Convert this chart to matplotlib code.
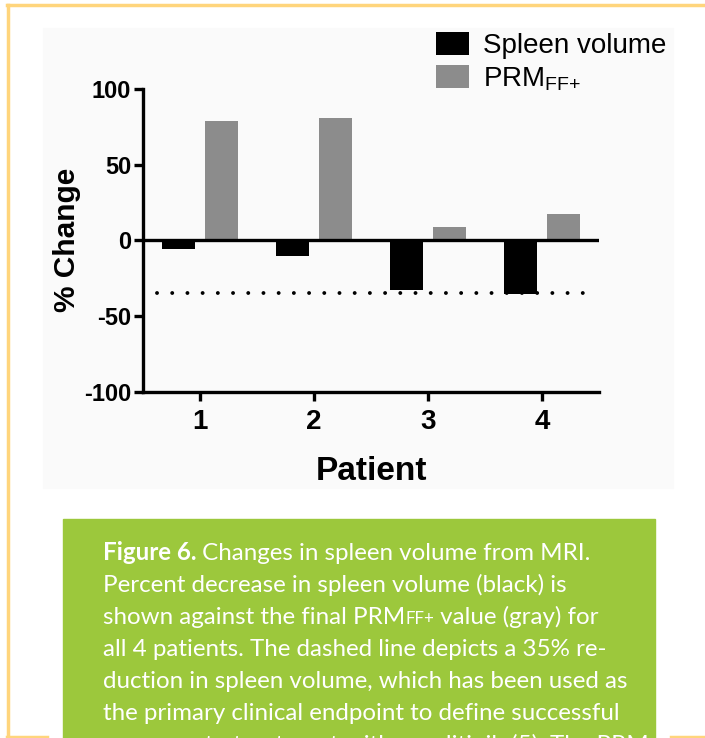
import matplotlib
matplotlib.use("Agg")
import matplotlib.pyplot as plt
from matplotlib.patches import Rectangle
import numpy as np

plt.rcParams['font.family'] = ['Liberation Sans', 'DejaVu Sans']
plt.rcParams['mathtext.fontset'] = 'custom'
plt.rcParams['mathtext.rm'] = 'Liberation Sans'
plt.rcParams['axes.unicode_minus'] = False

# data
patients = [1, 2, 3, 4]
spleen_volume = [-5.5, -10.5, -33, -35.5]
prm_ff = [79, 81, 8.5, 17.5]
threshold = -35
series_labels = ["Spleen volume", r"PRM$_{\mathrm{FF{+}}}$"]

caption_lines = [
    [("Figure 6.", "bold", 1.0), (" Changes in spleen volume from MRI.", "normal", 1.0)],
    [("Percent decrease in spleen volume (black) is", "normal", 1.0)],
    [("shown against the final PRM", "normal", 1.0), ("FF+", "normal", 0.7),
     (" value (gray) for", "normal", 1.0)],
    [("all 4 patients. The dashed line depicts a 35% re-", "normal", 1.0)],
    [("duction in spleen volume, which has been used as", "normal", 1.0)],
    [("the primary clinical endpoint to define successful", "normal", 1.0)],
    [("response to treatment with ruxolitinib (5). The PRM", "normal", 1.0)],
]

W, H = 705, 738
fig = plt.figure(figsize=(W / 100, H / 100), dpi=100)


def fx(px):
    return px / W


def fy(py):
    return 1 - py / H


# page decoration: frame, chart background, caption box
orange = "#FFD57C"
fig.add_artist(plt.Line2D([fx(7), fx(705)], [fy(5), fy(5)], color=orange, lw=2.5))
fig.add_artist(plt.Line2D([fx(8), fx(8)], [fy(5), fy(737)], color=orange, lw=2.5))
fig.add_artist(plt.Line2D([fx(7), fx(47)], [fy(737), fy(737)], color=orange, lw=2.5))
fig.add_artist(plt.Line2D([fx(671), fx(705)], [fy(737), fy(737)], color=orange, lw=2.5))
fig.add_artist(Rectangle((fx(43), fy(488)), fx(673) - fx(43), fy(28) - fy(488),
                         color="#FAFAFA", zorder=0))
fig.add_artist(Rectangle((fx(63), fy(738)), fx(655) - fx(63), fy(519) - fy(738),
                         color="#9CC83C", zorder=0))

# chart
ax = fig.add_axes([fx(143), fy(392), fx(599) - fx(143), fy(88.7) - fy(392)])
ax.set_facecolor("none")

x = np.array(patients)
w = 0.29
off = 0.187
ax.bar(x - off, spleen_volume, w, color="black", label=series_labels[0], zorder=3)
ax.bar(x + off, prm_ff, w, color="#8C8C8C", label=series_labels[1], zorder=3)
ax.axhline(0, color="black", lw=2.4, zorder=4)
ax.plot([0.62, 4.40], [threshold, threshold], color="black", lw=2.8,
        linestyle=(0, (0.01, 3.9)), dash_capstyle="round", zorder=5)

ax.set_xlim(0.5, 4.5)
ax.set_ylim(-100, 100)
ax.set_yticks([-100, -50, 0, 50, 100])
ax.set_xticks(patients)
for s in ["top", "right"]:
    ax.spines[s].set_visible(False)
for s in ["left", "bottom"]:
    ax.spines[s].set_linewidth(2.4)
ax.tick_params(axis="both", width=2.4, length=6.5, direction="out")
ax.tick_params(axis="y", labelsize=17, pad=2)
ax.tick_params(axis="x", labelsize=20, pad=6)
for lab in ax.get_xticklabels() + ax.get_yticklabels():
    lab.set_fontweight("bold")
ax.set_ylabel("% Change", fontsize=21.5, fontweight="bold", labelpad=2)
ax.set_xlabel("Patient", fontsize=24, fontweight="bold", labelpad=15)

ax.legend(loc="upper left", bbox_to_anchor=(fx(425), fy(21)), bbox_transform=fig.transFigure,
          frameon=False, fontsize=20, handlelength=1.2, handleheight=0.9,
          handletextpad=0.5, labelspacing=0.22, borderaxespad=0)

# caption text, drawn piece by piece so the small "FF+" follows "PRM"
cap_font = ["Lato", "DejaVu Sans"]
cap_size = 17.4
renderer = fig.canvas.get_renderer()
base0 = 560
step = 32
for i, pieces in enumerate(caption_lines):
    xpos = 103
    ypos = base0 + i * step
    for txt, weight, scale in pieces:
        t = fig.text(fx(xpos), fy(ypos), txt, color="white", fontsize=cap_size * scale,
                     fontweight=weight, family=cap_font, va="baseline", ha="left")
        bb = t.get_window_extent(renderer)
        xpos += bb.width

fig.savefig("out.png", dpi=100)
